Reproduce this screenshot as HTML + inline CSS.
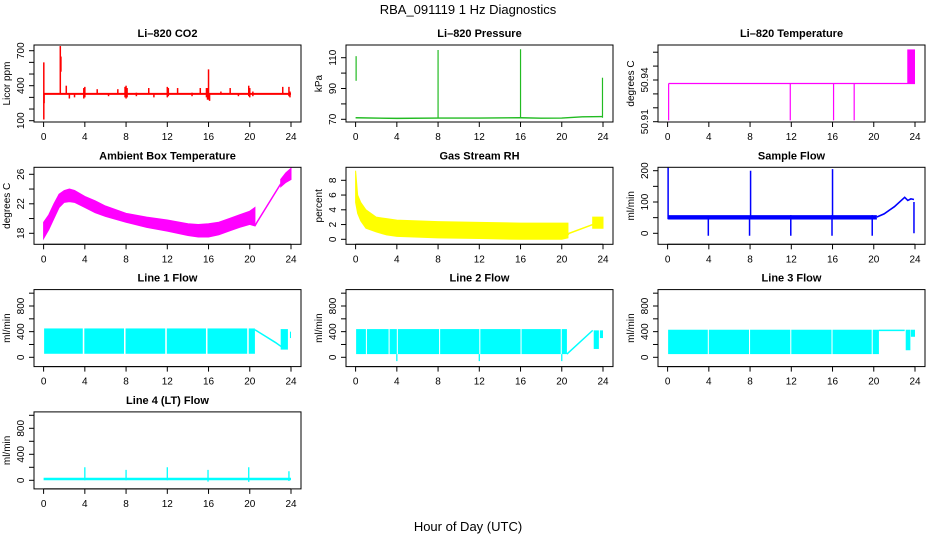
<!DOCTYPE html>
<html><head><meta charset="utf-8">
<style>
html,body{margin:0;padding:0;background:#fff;}
svg{display:block;font-family:"Liberation Sans",Arial,sans-serif;}
</style></head>
<body>
<svg id="fig" width="936" height="540" viewBox="0 0 936 540" xmlns="http://www.w3.org/2000/svg">
<rect width="936" height="540" fill="#fff"/>
<text x="468" y="14" font-size="13" text-anchor="middle">RBA_091119  1 Hz Diagnostics</text>
<text x="468" y="531" font-size="13" text-anchor="middle">Hour of Day (UTC)</text>
</svg>
<script>
// ---- shared axis data ----
const hourTicks = [0,4,8,12,16,20,24];

// ---- Li-820 CO2 ----
const co2Base = 330;
const co2SpikeHours = [0.02,0.05,1.62,1.68,2.2,2.5,3.0,3.9,4.0,5.2,6.3,7.2,7.9,8.0,8.1,9.0,10.2,10.7,12.0,12.1,13.0,14.4,15.2,15.8,15.9,16.0,16.1,17.2,18.1,18.9,19.9,20.0,20.3,23.2,23.8,23.9];
const co2SpikeLo = [110,250,330,520,330,290,300,290,300,330,310,330,300,290,300,310,330,300,300,310,330,310,330,300,280,280,270,330,330,310,310,300,310,330,310,300];
const co2SpikeHi = [600,330,740,650,400,330,330,380,390,370,330,370,390,400,380,340,380,330,390,380,380,340,380,380,380,540,330,350,380,330,400,380,350,390,390,350];

// ---- Li-820 Pressure ----
const presHours = [0,4,8,12,16,18,20,22,24];
const presBase = [71,70.6,70.8,70.8,71,70.7,70.8,71.6,71.8];
const presSpikeHours = [0.05,8.0,16.0,23.95];
const presSpikeLo = [95,71,71,71];
const presSpikeHi = [111,115,115.5,97];

// ---- Li-820 Temperature ----
const tempLevel = 50.9375;
const tempSpikeHours = [0.1,11.9,16.1,18.1];
const tempSpikeLo = 50.911;
const tempBlockStart = 23.25, tempBlockEnd = 24.0, tempBlockHi = 50.962;

// ---- Ambient Box Temperature ----
const ambHours = [0,0.5,1,1.5,2,2.5,3,4,5,6,8,10,12,14,15,16,17,18,19,20,20.5];
const ambLo = [17.3,18.5,20,21.5,22.2,22.3,22.2,21.5,20.8,20.3,19.5,18.8,18.3,17.7,17.5,17.5,17.8,18.3,18.8,19.2,19.0];
const ambHi = [19.5,20.5,22,23.3,23.8,24.0,23.8,23.0,22.4,21.7,20.7,20.2,19.8,19.3,19.2,19.3,19.5,20.0,20.5,21.0,21.5];
const ambLineHours = [20.5,20.7,23.0];
const ambLineVals = [19.0,19.5,24.7];
const ambTailHours = [23.0,23.5,24.0];
const ambTailLo = [24.3,24.9,25.3];
const ambTailHi = [25.3,26.2,26.8];

// ---- Gas Stream RH ----
const rhHours = [0,0.2,0.5,1,2,3,4,6,8,12,16,20,20.6];
const rhLo = [5,3.5,2.5,1.5,1,0.6,0.4,0.3,0.2,0.1,0,0,0.2];
const rhHi = [9.3,6,5,4,3,2.8,2.6,2.5,2.4,2.3,2.2,2.2,2.2];
const rhLineHours = [20.6,20.7,23.0];
const rhLineVals = [0.6,0.8,2.0];
const rhTailHours = [23.0,24.0];
const rhTailLo = [1.5,1.5];
const rhTailHi = [3.0,3.0];

// ---- Sample Flow ----
const sfBandStart = 0.05, sfBandEnd = 20.3, sfLo = 44, sfHi = 58;
const sfSpikeHours = [0.05,3.95,7.95,8.05,11.95,15.95,16.0,19.85,23.9];
const sfSpikeLo = [45,-8,-8,45,-8,-8,45,-8,0];
const sfSpikeHi = [210,45,45,200,58,58,205,58,100];
const sfLineHours = [20.3,21,22,23.0,23.3,23.6,23.9];
const sfLineVals = [52,62,85,115,105,110,108];

// ---- Line 1/2/3 Flow ----
const l1SegStart = [0.05,3.95,7.95,11.95,15.9,19.9];
const l1SegEnd = [3.8,7.8,11.8,15.75,19.75,20.5];
const l1Lo = 55, l1Hi = 450;
const l1LineHours = [20.5,21.5,22.5,23.2];
const l1LineVals = [430,330,230,150];
const l1TailStart = [23.0,23.9], l1TailEnd = [23.7,24.0];
const l1TailLo = [120,300], l1TailHi = [440,400];

const l2SegStart = [0.05,1.1,3.3,4.1,8.2,12.1,16.1,20.0];
const l2SegEnd = [1.0,3.2,4.0,8.1,12.0,16.0,19.9,20.5];
const l2Lo = 50, l2Hi = 440;
const l2DipHours = [4.0,12.0,20.0];
const l2DipLo = [-60,-60,-60];
const l2LineHours = [20.5,23.0];
const l2LineVals = [50,420];
const l2TailStart = [23.1,23.7], l2TailEnd = [23.6,24.0];
const l2TailLo = [130,300], l2TailHi = [420,420];

const l3SegStart = [0.05,4.0,8.0,12.0,16.0,19.9];
const l3SegEnd = [3.9,7.9,11.9,15.9,19.8,20.5];
const l3Lo = 50, l3Hi = 430;
const l3LineHours = [20.5,23.0];
const l3LineVals = [420,420];
const l3TailStart = [23.1,23.6], l3TailEnd = [23.55,24.0];
const l3TailLo = [110,320], l3TailHi = [430,430];

// ---- Line 4 (LT) Flow ----
const l4Base = 20;
const l4SpikeHours = [4.0,8.0,12.0,15.95,19.9,23.8];
const l4SpikeHi = [200,160,200,160,200,140];
const l4BandLo = [0,0,0,-20,-25,-10];

// ---------- drawing ----------
const svg = document.getElementById('fig');
const NS = 'http://www.w3.org/2000/svg';
function mk(tag, attrs, parent){
  const e = document.createElementNS(NS, tag);
  for (const k in attrs) e.setAttribute(k, attrs[k]);
  (parent||svg).appendChild(e);
  return e;
}
const COLX = [34,346,658], BOXW = 267;
const ROWY = [45,167.3,289.6,411.9], BOXH = 77;

function makePanel(col,row,name,title,ylab,cal,ticks,labels){
  const g = mk('g',{});
  
  
  const L = COLX[col], T = ROWY[row];
  const off = row*122.3;
  const x = h => L + 9.6 + h*(247.4/24);
  const y = v => (cal[1]+off) + (v-cal[0])*((cal[3]-cal[1])/(cal[2]-cal[0]));
  const clip = 'clip-'+name;
  const cp = mk('clipPath',{id:clip},g);
  mk('rect',{x:L,y:T,width:BOXW,height:BOXH},cp);
  const t = mk('text',{x:L+BOXW/2,y:T-8,'font-size':11,'font-weight':'bold','text-anchor':'middle'},g);
  t.textContent = title;
  
  
  const yl = mk('text',{x:0,y:0,'font-size':10,'text-anchor':'middle',transform:`translate(${L-24},${T+BOXH/2}) rotate(-90)`},g);
  yl.textContent = ylab;
  
  
  // x axis
  const xa = mk('g',{},g);
  
  
  mk('line',{x1:x(0),x2:x(24),y1:T+BOXH,y2:T+BOXH,stroke:'#000'},xa);
  hourTicks.forEach(h=>{
    mk('line',{x1:x(h),x2:x(h),y1:T+BOXH,y2:T+BOXH+5,stroke:'#000'},xa);
    const tx = mk('text',{x:x(h),y:T+BOXH+18,'font-size':10,'text-anchor':'middle'},xa);
    tx.textContent = h;
  });
  // y axis
  const ya = mk('g',{},g);
  
  
  mk('line',{x1:L,x2:L,y1:y(ticks[0]),y2:y(ticks[ticks.length-1]),stroke:'#000'},ya);
  ticks.forEach(v=>{
    mk('line',{x1:L-5,x2:L,y1:y(v),y2:y(v),stroke:'#000'},ya);
  });
  labels.forEach(v=>{
    const tx = mk('text',{x:0,y:0,'font-size':10,'text-anchor':'middle',transform:`translate(${L-10},${y(v)}) rotate(-90)`},ya);
    tx.textContent = v;
  });
  const plot = mk('g',{'clip-path':`url(#${clip})`},g);
  
  
  mk('rect',{x:L,y:T,width:BOXW,height:BOXH,fill:'none',stroke:'#000'},g);
  return {x,y,plot};
}
function band(p,hs,lo,hi,color){
  const pts = hs.map((h,i)=>p.x(h)+','+p.y(hi[i])).concat(hs.map((h,i)=>p.x(h)+','+p.y(lo[i])).reverse());
  mk('polygon',{points:pts.join(' '),fill:color,stroke:color,'stroke-width':1},p.plot);
}
function line(p,hs,vs,color,w){
  mk('polyline',{points:hs.map((h,i)=>p.x(h)+','+p.y(vs[i])).join(' '),fill:'none',stroke:color,'stroke-width':w||1.2},p.plot);
}
function vseg(p,h,a,b,color,w){
  mk('line',{x1:p.x(h),x2:p.x(h),y1:p.y(a),y2:p.y(b),stroke:color,'stroke-width':w||1.3},p.plot);
}
function rectB(p,h0,h1,lo,hi,color){
  mk('rect',{x:p.x(h0),y:p.y(hi),width:p.x(h1)-p.x(h0),height:p.y(lo)-p.y(hi),fill:color},p.plot);
}

// CO2
let p = makePanel(0,0,'co2-panel','Li\u2013820 CO2','Licor ppm',[100,120.7,700,50.7],[100,200,300,400,500,600,700],[100,400,700]);
line(p,[0,24],[co2Base,co2Base],'#ff0000',2);
co2SpikeHours.forEach((h,i)=>vseg(p,h,co2SpikeLo[i],co2SpikeHi[i],'#ff0000',1.5));

// Pressure
p = makePanel(1,0,'pressure-panel','Li\u2013820 Pressure','kPa',[70,119.3,110,57.7],[70,80,90,100,110],[70,90,110]);
line(p,presHours,presBase,'#22bb22',1.4);
presSpikeHours.forEach((h,i)=>vseg(p,h,presSpikeLo[i],presSpikeHi[i],'#22bb22',1.2));

// Temperature
p = makePanel(2,0,'li820-temperature-panel','Li\u2013820 Temperature','degrees C',[50.91,121.7,50.94,80],[50.91,50.92,50.93,50.94,50.95,50.96],[50.91,50.94]);
line(p,[0.1,tempBlockEnd],[tempLevel,tempLevel],'#ff00ff',1.2);
tempSpikeHours.forEach(h=>vseg(p,h,tempSpikeLo,tempLevel,'#ff00ff',1.2));
rectB(p,tempBlockStart,tempBlockEnd,tempLevel,tempBlockHi,'#ff00ff');

// Ambient
p = makePanel(0,1,'ambient-temperature-panel','Ambient Box Temperature','degrees C',[18,111,26,52],[18,20,22,24,26],[18,22,26]);
band(p,ambHours,ambLo,ambHi,'#ff00ff');
line(p,ambLineHours,ambLineVals,'#ff00ff',1.5);
band(p,ambTailHours,ambTailLo,ambTailHi,'#ff00ff');

// RH
p = makePanel(1,1,'gas-stream-rh-panel','Gas Stream RH','percent',[0,117,8,58],[0,2,4,6,8],[0,2,4,6,8]);
band(p,rhHours,rhLo,rhHi,'#ffff00');
line(p,rhLineHours,rhLineVals,'#ffff00',1.5);
band(p,rhTailHours,rhTailLo,rhTailHi,'#ffff00');

// Sample flow
p = makePanel(2,1,'sample-flow-panel','Sample Flow','ml/min',[0,111,200,48.4],[0,50,100,150,200],[0,100,200]);
rectB(p,sfBandStart,sfBandEnd,sfLo,sfHi,'#0000ff');
sfSpikeHours.forEach((h,i)=>vseg(p,h,sfSpikeLo[i],sfSpikeHi[i],'#0000ff',1.5));
line(p,sfLineHours,sfLineVals,'#0000ff',1.6);

// Line flows
const flowTicks=[0,200,400,600,800,1000], flowLabels=[0,400,800];
p = makePanel(0,2,'line1-flow-panel','Line 1 Flow','ml/min',[0,112.7,800,61.4],flowTicks,flowLabels);
l1SegStart.forEach((s,i)=>rectB(p,s,l1SegEnd[i],l1Lo,l1Hi,'#00ffff'));
line(p,l1LineHours,l1LineVals,'#00ffff',1.5);
l1TailStart.forEach((s,i)=>rectB(p,s,l1TailEnd[i],l1TailLo[i],l1TailHi[i],'#00ffff'));

p = makePanel(1,2,'line2-flow-panel','Line 2 Flow','ml/min',[0,112.7,800,61.4],flowTicks,flowLabels);
l2SegStart.forEach((s,i)=>rectB(p,s,l2SegEnd[i],l2Lo,l2Hi,'#00ffff'));
l2DipHours.forEach((h,i)=>vseg(p,h,l2DipLo[i],l2Lo,'#00ffff',1.3));
line(p,l2LineHours,l2LineVals,'#00ffff',1.5);
l2TailStart.forEach((s,i)=>rectB(p,s,l2TailEnd[i],l2TailLo[i],l2TailHi[i],'#00ffff'));

p = makePanel(2,2,'line3-flow-panel','Line 3 Flow','ml/min',[0,112.7,800,61.4],flowTicks,flowLabels);
l3SegStart.forEach((s,i)=>rectB(p,s,l3SegEnd[i],l3Lo,l3Hi,'#00ffff'));
line(p,l3LineHours,l3LineVals,'#00ffff',1.5);
l3TailStart.forEach((s,i)=>rectB(p,s,l3TailEnd[i],l3TailLo[i],l3TailHi[i],'#00ffff'));

p = makePanel(0,3,'line4-flow-panel','Line 4 (LT) Flow','ml/min',[0,113.4,800,61.4],flowTicks,flowLabels);
line(p,[0,24],[l4Base,l4Base],'#00ffff',2.5);
l4SpikeHours.forEach((h,i)=>{vseg(p,h,l4Base,l4SpikeHi[i],'#00ffff',1.3);});
[14,16,18,20,21].forEach((h,i)=>{});
l4SpikeHours.forEach((h,i)=>vseg(p,h,l4BandLo[i],l4Base,'#00ffff',1.3));
</script>
</body></html>
